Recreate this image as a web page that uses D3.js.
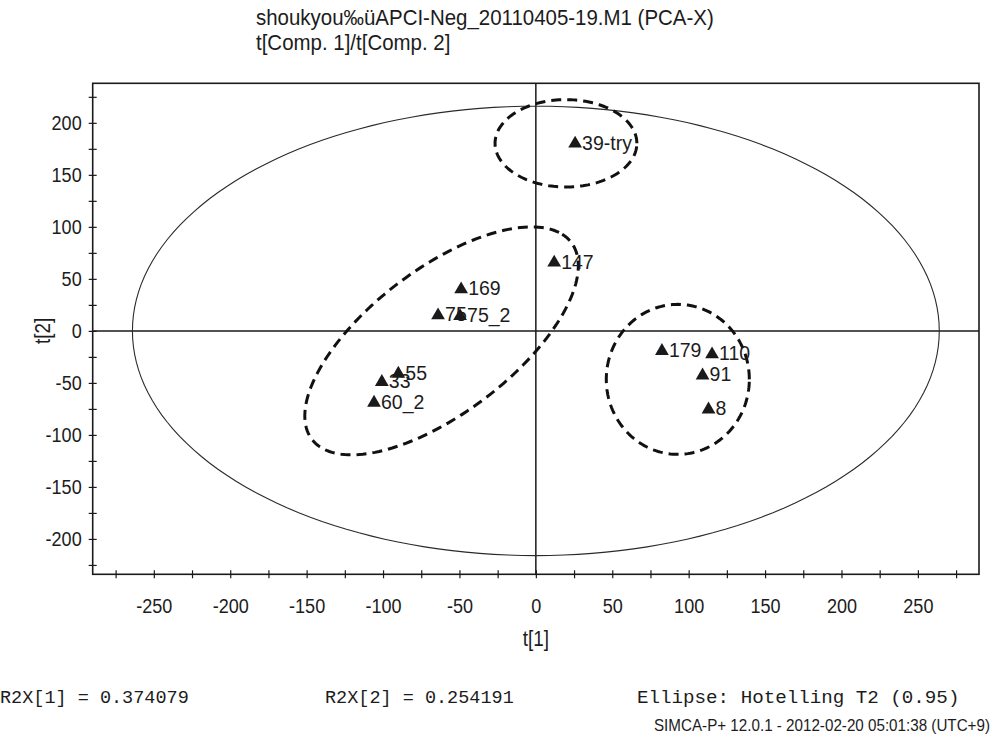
<!DOCTYPE html>
<html>
<head>
<meta charset="utf-8">
<script src="https://cdn.jsdelivr.net/npm/d3@7"></script>
<style>
  html, body { margin: 0; padding: 0; background: #fff; }
  svg { display: block; }
  text { fill: #1c1c1c; }
</style>
</head>
<body>
<svg id="chart" width="997" height="742"></svg>
<script>
// Score values t[1], t[2] for each observation (drawing order matters for overlaps)
const pointLabels = ["39-try", "147", "169", "75", "75_2", "33", "55", "60_2", "179", "110", "91", "8"];
const t1Values    = [25.7, 12.0, -48.9, -64.0, -49.6, -100.8, -90.0, -105.9, 82.5, 115.3, 109.1, 113.0];
const t2Values    = [180.0, 65.6, 39.9, 14.9, 14.2, -49.2, -41.2, -69.0, -19.4, -22.6, -42.8, -75.5];

// Hotelling T2 (0.95) ellipse semi-axes in score units
const hotellingRadii = [264, 216];

// Dashed group outlines: centre (t1, t2), semi-axes and rotation (degrees, in score space)
const groupCx    = [19.7, -61.7, 92.9];
const groupCy    = [180.3, -9.6, -46.6];
const groupRa    = [46.4, 129.5, 46.8];
const groupRb    = [42.0, 57.0, 72.1];
const groupAngle = [0, 53.6, 0];

// Axis ticks
const xTickValues = [-275, -250, -225, -200, -175, -150, -125, -100, -75, -50, -25, 0, 25, 50, 75, 100, 125, 150, 175, 200, 225, 250, 275];
const yTickValues = [-225, -200, -175, -150, -125, -100, -75, -50, -25, 0, 25, 50, 75, 100, 125, 150, 175, 200, 225];
const labelStep = 50;

const titleLines = ["shoukyou\u2030\u00fcAPCI-Neg_20110405-19.M1 (PCA-X)", "t[Comp. 1]/t[Comp. 2]"];
const xTitle = "t[1]";
const yTitle = "t[2]";
const r2xValues = [0.374079, 0.254191];
const ellipseNote = "Ellipse: Hotelling T2 (0.95)";
const footerNote = "SIMCA-P+ 12.0.1 - 2012-02-20 05:01:38 (UTC+9)";

const svg = d3.select("#chart");
const plot = { left: 92.7, right: 979, top: 83.3, bottom: 574.3 };

const x = d3.scaleLinear().domain([-290, 290]).range([plot.left, plot.right]);
const y = d3.scaleLinear().domain([-234, 238]).range([plot.bottom, plot.top]);

const sansFont = "'Liberation Sans', Arial, sans-serif";
const monoFont = "'Liberation Mono', 'Courier New', monospace";

// Narrow-looking text: placed via translate and squeezed horizontally
function narrowText(parent, px, py, str, size, sx, anchor) {
  return parent.append("text")
    .attr("transform", `translate(${px},${py}) scale(${sx},1)`)
    .attr("font-family", sansFont)
    .attr("font-size", size)
    .attr("text-anchor", anchor || "start")
    .text(str);
}

// Title
titleLines.forEach((line, i) => {
  narrowText(svg, 256, 25 + i * 25, line, 22, 0.93, "start");
});

// Plot frame
svg.append("rect")
  .attr("x", plot.left).attr("y", plot.top)
  .attr("width", plot.right - plot.left).attr("height", plot.bottom - plot.top)
  .attr("fill", "none").attr("stroke", "#1a1a1a").attr("stroke-width", 1.6);

// Zero lines
svg.append("line")
  .attr("x1", x(0)).attr("x2", x(0)).attr("y1", plot.top).attr("y2", plot.bottom)
  .attr("stroke", "#1a1a1a").attr("stroke-width", 1.5);
svg.append("line")
  .attr("x1", plot.left).attr("x2", plot.right).attr("y1", y(0)).attr("y2", y(0))
  .attr("stroke", "#1a1a1a").attr("stroke-width", 1.5);

// Axes
const tickFmt = v => (v % labelStep === 0 ? String(v) : "");
const sx = 0.86;

const xAxis = svg.append("g")
  .attr("transform", `translate(0,${plot.bottom})`)
  .call(d3.axisBottom(x).tickValues(xTickValues).tickFormat(tickFmt).tickSize(4).tickPadding(20));
xAxis.select(".domain").remove();
xAxis.selectAll(".tick line").attr("y1", -4).attr("stroke", "#1a1a1a").attr("stroke-width", 1.2);
xAxis.selectAll(".tick text")
  .attr("font-family", sansFont).attr("font-size", 21)
  .attr("fill", "#1c1c1c")
  .attr("transform", `scale(${sx},1)`);

const yAxis = svg.append("g")
  .attr("transform", `translate(${plot.left},0)`)
  .call(d3.axisLeft(y).tickValues(yTickValues).tickFormat(tickFmt).tickSize(4).tickPadding(7));
yAxis.select(".domain").remove();
yAxis.selectAll(".tick line").attr("x1", 4).attr("stroke", "#1a1a1a").attr("stroke-width", 1.2);
yAxis.selectAll(".tick text")
  .attr("font-family", sansFont).attr("font-size", 21)
  .attr("fill", "#1c1c1c")
  .attr("x", -11 / sx)
  .attr("transform", `scale(${sx},1)`);

// Axis titles
narrowText(svg, x(0), 646, xTitle, 22, sx, "middle");
svg.append("text")
  .attr("transform", `translate(50,${y(0)}) rotate(-90) scale(${sx},1)`)
  .attr("font-family", sansFont).attr("font-size", 22)
  .attr("text-anchor", "middle")
  .text(yTitle);

// Ellipse outline generator in score space
const angles = d3.range(0, 361, 2).map(d => d * Math.PI / 180);
function ellipsePoints(cx, cy, ra, rb, rotDeg) {
  const r = rotDeg * Math.PI / 180;
  return angles.map(a => {
    const u = ra * Math.cos(a), v = rb * Math.sin(a);
    return [cx + u * Math.cos(r) - v * Math.sin(r), cy + u * Math.sin(r) + v * Math.cos(r)];
  });
}
const ellipseLine = d3.line().x(d => x(d[0])).y(d => y(d[1])).curve(d3.curveLinearClosed);

// Hotelling T2 ellipse
svg.append("path")
  .attr("d", ellipseLine(ellipsePoints(0, 0, hotellingRadii[0], hotellingRadii[1], 0)))
  .attr("fill", "none").attr("stroke", "#2a2a2a").attr("stroke-width", 1.1);

// Dashed group outlines
groupCx.forEach((cx, i) => {
  svg.append("path")
    .attr("d", ellipseLine(ellipsePoints(cx, groupCy[i], groupRa[i], groupRb[i], groupAngle[i])))
    .attr("fill", "none").attr("stroke", "#111").attr("stroke-width", 3)
    .attr("stroke-dasharray", "10,6");
});

// Score points with labels
const tri = d3.symbol().type(d3.symbolTriangle).size(82);
const pts = svg.append("g");
pointLabels.forEach((lab, i) => {
  const px = x(t1Values[i]), py = y(t2Values[i]);
  pts.append("path")
    .attr("d", tri())
    .attr("transform", `translate(${px},${py})`)
    .attr("fill", "#1a1a1a");
  pts.append("text")
    .attr("x", px + 7).attr("y", py + 6)
    .attr("font-family", sansFont).attr("font-size", 19.5)
    .text(lab);
});

// Footer statistics
const footY = 703;
svg.append("text").attr("x", 0).attr("y", footY)
  .attr("font-family", monoFont).attr("font-size", 18.5)
  .text(`R2X[1] = ${r2xValues[0].toFixed(6)}`);
svg.append("text").attr("x", 325).attr("y", footY)
  .attr("font-family", monoFont).attr("font-size", 18.5)
  .text(`R2X[2] = ${r2xValues[1].toFixed(6)}`);
svg.append("text").attr("x", 637).attr("y", footY)
  .attr("font-family", monoFont).attr("font-size", 19.2)
  .text(ellipseNote);

narrowText(svg, 990, 731, footerNote, 16, 0.95, "end");
</script>
</body>
</html>
